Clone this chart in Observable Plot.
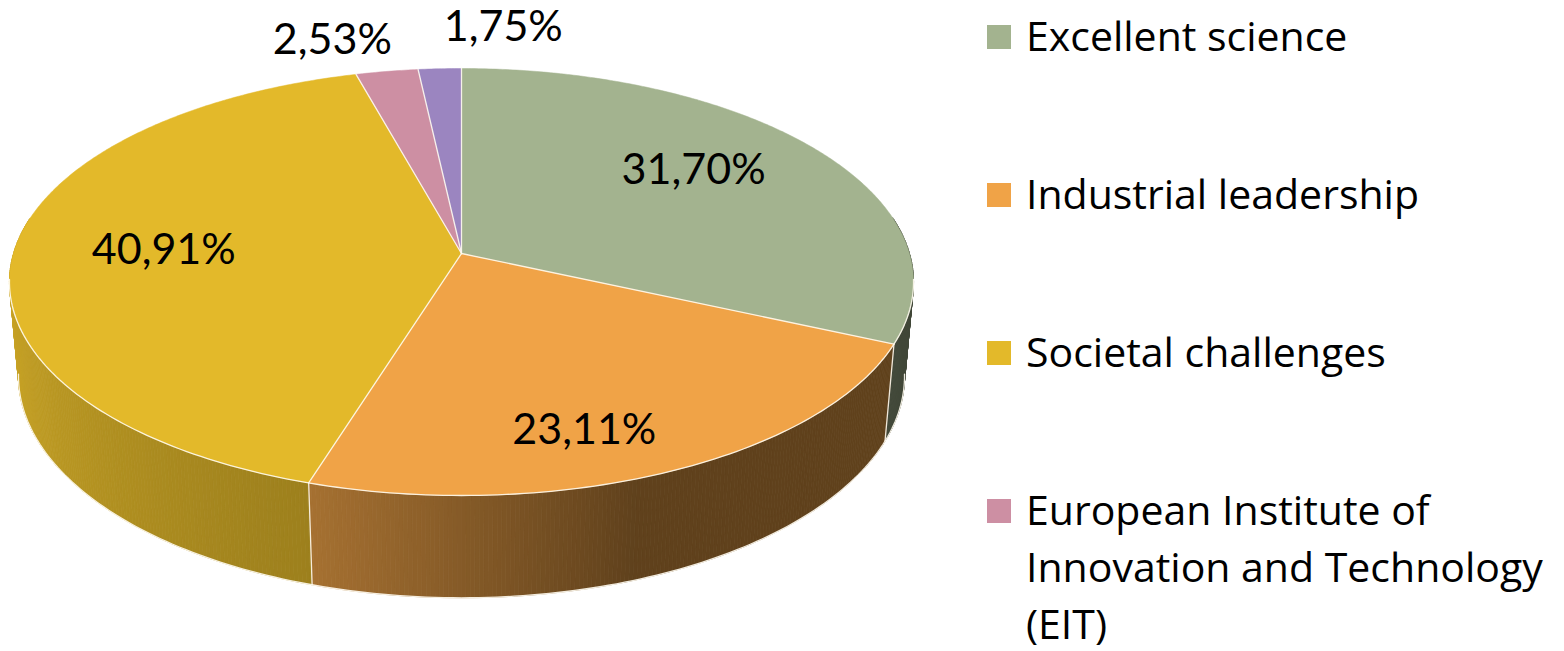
<!DOCTYPE html>
<html><head><meta charset="utf-8">
<script src="https://cdn.jsdelivr.net/npm/d3@7"></script>
<script src="https://cdn.jsdelivr.net/npm/@observablehq/plot@0.6"></script>
<style>
body{margin:0;background:#fff;}
#wrap{position:relative;width:1564px;height:651px;overflow:hidden;background:#fff;font-family:"Open Sans",Lato,sans-serif;}
#chart{position:absolute;left:0;top:0;}
#legend{position:absolute;left:987px;top:0;}
.item{position:absolute;left:0;white-space:nowrap;font-size:41px;line-height:57px;color:#000;font-variant-ligatures:none;}
.sw{position:absolute;left:0;width:24px;height:24px;}
.lab{position:absolute;left:39px;top:0;}
</style></head>
<body><div id="wrap"><div id="chart"></div><div id="legend"></div></div>
<script>
// ---- data ----
const categories = ["Excellent science", "Industrial leadership", "Societal challenges", "European Institute of Innovation and Technology (EIT)", "Other"];
const shares = [31.70, 23.11, 40.91, 2.53, 1.75];
const valueLabels = ["31,70%", "23,11%", "40,91%", "2,53%", "1,75%"];
const legendCount = 4; // entries visible in the legend
const legendLines = [["Excellent science"], ["Industrial leadership"], ["Societal challenges"], ["European Institute of", "Innovation and Technology", "(EIT)"]];

// ---- style / layout ----
const colors = ["#a3b38f", "#f0a347", "#e3b92a", "#cd8fa3", "#9b85c0"];
const W = 960, H = 651;
const CX = 461, CY = 253, RX = 448, RY = 209.7, PERSP = 0.1335, DEPTH = 95.5, SHRINK = 0.02;
const insideLabel = {0: {r: 0.688, shift: -4.4}, 1: {r: 0.798, shift: 6.3}, 2: {r: 0.666, shift: 0.25}};
const outsideLabel = {3: {anchor: "end", dx: 5, dy: -31}, 4: {anchor: "start", dx: 4, dy: -42}};

function project(theta, r, h) {
  const t = theta * Math.PI / 180;
  const X = r * Math.sin(t), Z = -r * Math.cos(t);
  const w = 1 - PERSP * Z + SHRINK * h;
  return [CX + RX * X / w, CY + (RY * Z + DEPTH * h) / w];
}
function shadeFactor(theta) {
  if (theta >= 262) return 0.89;
  if (theta >= 197) return 0.69 + (theta - 197) / 65 * 0.20;
  if (theta >= 160) return 0.40 + (theta - 160) / 37 * 0.29;
  return 0.40;
}
function shade(color, theta) {
  const c = d3.rgb(color), f = shadeFactor(theta);
  return d3.rgb(c.r * f, c.g * f, c.b * f).formatHex();
}

// ---- geometry from data ----
const total = d3.sum(shares);
let acc = 0;
const slices = shares.map((v, i) => {
  const a0 = acc / total * 360; acc += v; const a1 = acc / total * 360;
  return {i, a0, a1, mid: (a0 + a1) / 2, color: colors[i]};
});

const apex = project(0, 0, 0);
const topRows = [];
slices.forEach(s => {
  topRows.push({id: s.i, x: apex[0], y: apex[1], fill: s.color});
  const n = Math.max(2, Math.ceil((s.a1 - s.a0) / 0.5));
  for (let k = 0; k <= n; k++) {
    const [x, y] = project(s.a0 + (s.a1 - s.a0) * k / n, 1, 0);
    topRows.push({id: s.i, x, y, fill: s.color});
  }
  topRows.push({id: s.i, x: apex[0], y: apex[1], fill: s.color});
});

const angles = [];
for (let t = 80; t <= 280; t += 0.5) angles.push(t);
slices.forEach(s => { if (s.a0 > 80 && s.a0 < 280) angles.push(s.a0); });
angles.sort((a, b) => a - b);
const segs = [];
for (let k = 0; k < angles.length - 1; k++) {
  const t0 = angles[k], t1 = angles[k + 1];
  if (t1 - t0 < 1e-6) continue;
  const m = (t0 + t1) / 2;
  const s = slices.find(s => m >= s.a0 && m < s.a1);
  segs.push({t0, t1, m, s});
}
segs.sort((a, b) => -Math.cos(a.m * Math.PI / 180) + Math.cos(b.m * Math.PI / 180));
const sideRows = [];
segs.forEach((g, k) => {
  const c = shade(g.s.color, g.m);
  [project(g.t0, 1, 0), project(g.t1, 1, 0), project(g.t1, 1, 1), project(g.t0, 1, 1), project(g.t0, 1, 0)]
    .forEach(([x, y]) => sideRows.push({id: k, x, y, fill: c}));
});

const shadowRows = [];
for (let h of [0, 1]) for (let t = 0; t <= 360; t += 1) {
  const [x, y] = project(t, 1, h);
  shadowRows.push({id: h, x: x + 1, y: y + 4});
}

const edgeRows = [];
let eid = 0;
slices.forEach(s => {
  const [x, y] = project(s.a0, 1, 0);
  edgeRows.push({id: eid, x: apex[0], y: apex[1]}, {id: eid, x, y}); eid++;
  if (s.a0 > 98 && s.a0 < 262) {
    const [bx, by] = project(s.a0, 1, 1);
    edgeRows.push({id: eid, x, y}, {id: eid, x: bx, y: by}); eid++;
  }
});
for (let h of [0, 1]) {
  for (let t = 97; t <= 263; t += 1) { const [x, y] = project(t, 1, h); edgeRows.push({id: eid, x, y}); }
  eid++;
}

const insideRows = [], outsideRows = [];
slices.forEach(s => {
  if (insideLabel[s.i]) {
    const L = insideLabel[s.i];
    const [x, y] = project(s.mid + L.shift, L.r, 0);
    insideRows.push({x, y, text: valueLabels[s.i]});
  } else if (outsideLabel[s.i]) {
    const L = outsideLabel[s.i];
    const [x, y] = project(s.mid, 1, 0);
    outsideRows.push({x: x + L.dx, y: y + L.dy, text: valueLabels[s.i], anchor: L.anchor});
  }
});

const font = "Lato, 'Open Sans', sans-serif";
const plot = Plot.plot({
  width: W, height: H, margin: 0,
  x: {domain: [0, W], range: [0, W], axis: null},
  y: {domain: [0, H], range: [0, H], axis: null},
  color: {type: "identity"},
  marks: [
    Plot.line(shadowRows, {x: "x", y: "y", z: "id", fill: "#000", fillOpacity: 0.35, stroke: "none", ariaLabel: "shadow"}),
    Plot.line(sideRows, {x: "x", y: "y", z: "id", fill: "fill", stroke: "fill", strokeWidth: 0.8}),
    Plot.line(topRows, {x: "x", y: "y", z: "id", fill: "fill", stroke: "fill", strokeWidth: 0.5}),
    Plot.line(edgeRows, {x: "x", y: "y", z: "id", stroke: "#fffbf0", strokeWidth: 1.3, strokeOpacity: 0.9}),
    Plot.text(insideRows, {x: "x", y: "y", text: "text", fontSize: 43, fontFamily: font, fill: "#000"}),
    Plot.text(outsideRows.filter(d => d.anchor === "end"), {x: "x", y: "y", text: "text", textAnchor: "end", fontSize: 43, fontFamily: font, fill: "#000"}),
    Plot.text(outsideRows.filter(d => d.anchor === "start"), {x: "x", y: "y", text: "text", textAnchor: "start", fontSize: 43, fontFamily: font, fill: "#000"})
  ]
});
const ns = "http://www.w3.org/2000/svg";
const defs = document.createElementNS(ns, "defs");
defs.innerHTML = '<filter id="pieblur" x="-10%" y="-10%" width="120%" height="130%"><feGaussianBlur stdDeviation="3.5"/></filter>';
plot.insertBefore(defs, plot.firstChild);
const sh = plot.querySelector('g[aria-label="shadow"]');
if (sh) sh.setAttribute("filter", "url(#pieblur)");
document.getElementById("chart").appendChild(plot);

// ---- legend ----
const legend = document.getElementById("legend");
const baselines = [51, 209, 367, 525];
const baseOffset = 44.4;
for (let i = 0; i < legendCount; i++) {
  const item = document.createElement("div");
  item.className = "item";
  item.style.top = (baselines[i] - baseOffset) + "px";
  const sw = document.createElement("div");
  sw.className = "sw";
  sw.style.background = colors[i];
  sw.style.top = (baseOffset - 26) + "px";
  const lab = document.createElement("div");
  lab.className = "lab";
  lab.innerHTML = legendLines[i].map(l => l.replace(/&/g, "&amp;")).join("<br>");
  lab.title = categories[i];
  item.appendChild(sw); item.appendChild(lab);
  legend.appendChild(item);
}
</script>
</body></html>
